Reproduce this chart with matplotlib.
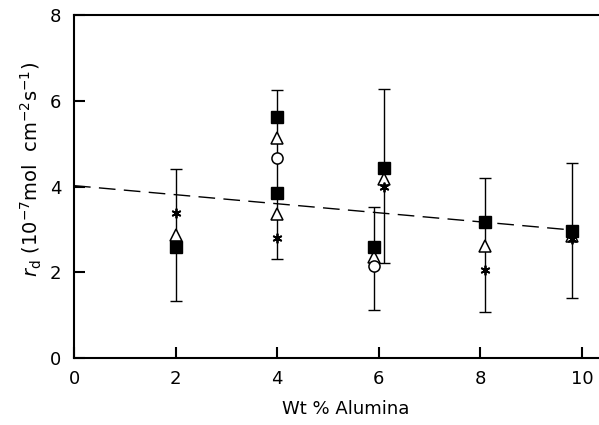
import matplotlib
matplotlib.use("Agg")
import matplotlib.pyplot as plt
import numpy as np

# data
sq_x = [2.0, 4.0, 4.0, 5.9, 6.1, 8.1, 9.8]
sq_y = [2.60, 5.62, 3.85, 2.60, 4.43, 3.17, 2.97]
tri_x = [2.0, 4.0, 4.0, 5.9, 6.1, 8.1, 9.8]
tri_y = [2.87, 5.13, 3.36, 2.35, 4.17, 2.61, 2.85]
circ_x = [4.0, 5.9]
circ_y = [4.66, 2.15]
star_x = [2.0, 4.0, 6.1, 8.1, 9.8]
star_y = [3.38, 2.80, 3.99, 2.05, 2.77]

err_x = [2.0, 4.0, 5.9, 6.1, 8.1, 9.8]
err_lo = [1.32, 2.30, 1.12, 2.22, 1.07, 1.40]
err_hi = [4.40, 6.25, 3.52, 6.27, 4.19, 4.55]

fit_x = [0.0, 9.85]
fit_y = [4.02, 2.98]

fig = plt.figure(figsize=(5.99, 4.25), dpi=100)
ax = fig.add_axes([74/599, 67/425, 10.7*50.8/599, 343/425])

mid = [(a + b) / 2 for a, b in zip(err_lo, err_hi)]
half = [(b - a) / 2 for a, b in zip(err_lo, err_hi)]
ax.errorbar(err_x, mid, yerr=half, fmt='none', ecolor='black', elinewidth=1.0,
            capsize=4, capthick=1.0, zorder=1)

ax.plot(fit_x, fit_y, color='black', lw=1.0, dashes=(12, 6), zorder=2)

ax.plot(tri_x, tri_y, ls='none', marker='^', ms=8, mfc='white', mec='black', mew=1.1, zorder=3)
ax.plot(circ_x, circ_y, ls='none', marker='o', ms=8, mfc='white', mec='black', mew=1.1, zorder=3)
ax.plot(star_x, star_y, ls='none', marker=(6, 2, 0), ms=7, color='black', mew=1.3, zorder=4)
ax.plot(sq_x, sq_y, ls='none', marker='s', ms=8, color='black', zorder=5)

ax.set_xlim(0, 10.7)
ax.set_ylim(0, 8)
ax.set_xticks([0, 2, 4, 6, 8, 10])
ax.set_yticks([0, 2, 4, 6, 8])
ax.tick_params(direction='in', length=8, width=1.5, labelsize=13)
ax.tick_params(axis='x', pad=9)
ax.tick_params(axis='y', pad=9)
for s in ['left', 'bottom', 'top']:
    ax.spines[s].set_linewidth(1.5)
ax.spines['right'].set_visible(False)

ax.set_xlabel('Wt % Alumina', fontsize=13, labelpad=8)
ax.set_ylabel(r'$r_\mathrm{d}$ (10$^{-7}$mol  cm$^{-2}$s$^{-1}$)', fontsize=14)
ax.yaxis.set_label_coords(-0.055, 0.55)

plt.savefig('out.png', dpi=100)
